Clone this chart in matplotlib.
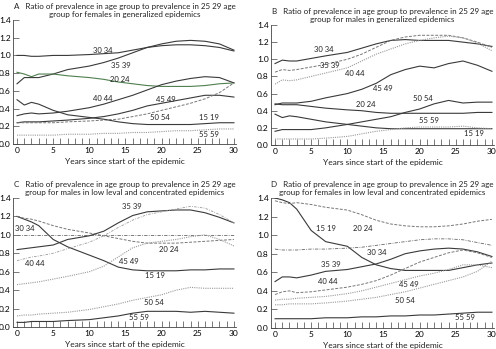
import matplotlib
matplotlib.use("Agg")
import matplotlib.pyplot as plt
from matplotlib.ticker import MultipleLocator

plt.rcParams['font.family'] = ['Lato', 'DejaVu Sans']

# sample years
years = [0, 1, 2, 3, 5, 7, 10, 12, 14, 16, 18, 20, 22, 24, 26, 28, 30]

# A - females, generalized epidemics
a_30_34 = [1.00, 1.00, 0.99, 0.99, 1.00, 1.00, 1.01, 1.02, 1.03, 1.06, 1.09, 1.11, 1.12, 1.12, 1.11, 1.09, 1.05]
a_35_39 = [0.68, 0.75, 0.75, 0.75, 0.79, 0.84, 0.88, 0.92, 0.97, 1.03, 1.09, 1.13, 1.16, 1.17, 1.16, 1.13, 1.06]
a_20_24 = [0.81, 0.79, 0.76, 0.79, 0.79, 0.77, 0.75, 0.73, 0.70, 0.68, 0.66, 0.65, 0.65, 0.65, 0.66, 0.68, 0.69]
a_40_44 = [0.32, 0.34, 0.35, 0.34, 0.35, 0.37, 0.41, 0.45, 0.50, 0.55, 0.61, 0.67, 0.71, 0.74, 0.76, 0.75, 0.69]
a_45_49 = [0.24, 0.25, 0.25, 0.25, 0.26, 0.27, 0.29, 0.31, 0.34, 0.38, 0.43, 0.46, 0.49, 0.52, 0.55, 0.55, 0.53]
a_50_54 = [0.24, 0.24, 0.24, 0.24, 0.24, 0.25, 0.26, 0.27, 0.28, 0.31, 0.34, 0.38, 0.42, 0.46, 0.51, 0.58, 0.69]
a_15_19 = [0.50, 0.44, 0.47, 0.45, 0.38, 0.33, 0.30, 0.28, 0.25, 0.23, 0.22, 0.22, 0.22, 0.22, 0.23, 0.24, 0.24]
a_55_59 = [0.10, 0.10, 0.10, 0.10, 0.10, 0.11, 0.11, 0.12, 0.12, 0.13, 0.13, 0.14, 0.15, 0.15, 0.16, 0.17, 0.17]

# B - males, generalized epidemics
b_30_34 = [0.95, 0.99, 0.98, 0.98, 1.01, 1.04, 1.08, 1.13, 1.18, 1.22, 1.23, 1.22, 1.22, 1.22, 1.20, 1.18, 1.15]
b_35_39 = [0.85, 0.88, 0.87, 0.88, 0.91, 0.94, 1.00, 1.06, 1.14, 1.22, 1.26, 1.28, 1.28, 1.28, 1.25, 1.20, 1.14]
b_40_44 = [0.71, 0.76, 0.75, 0.76, 0.80, 0.84, 0.90, 0.98, 1.06, 1.12, 1.18, 1.22, 1.25, 1.27, 1.25, 1.19, 1.10]
b_45_49 = [0.47, 0.49, 0.49, 0.49, 0.51, 0.55, 0.60, 0.65, 0.72, 0.82, 0.88, 0.92, 0.90, 0.95, 0.98, 0.93, 0.86]
b_20_24 = [0.48, 0.47, 0.47, 0.47, 0.45, 0.43, 0.41, 0.40, 0.38, 0.37, 0.37, 0.37, 0.37, 0.37, 0.37, 0.38, 0.38]
b_50_54 = [0.16, 0.18, 0.18, 0.18, 0.18, 0.20, 0.24, 0.27, 0.30, 0.33, 0.38, 0.42, 0.48, 0.52, 0.49, 0.50, 0.50]
b_15_19 = [0.36, 0.32, 0.34, 0.33, 0.30, 0.27, 0.24, 0.22, 0.20, 0.19, 0.19, 0.19, 0.19, 0.19, 0.19, 0.19, 0.19]
b_55_59 = [0.07, 0.07, 0.07, 0.07, 0.07, 0.08, 0.10, 0.13, 0.16, 0.18, 0.20, 0.21, 0.21, 0.21, 0.22, 0.20, 0.19]

# C - males, low level and concentrated epidemics
c_15_19 = [1.20, 1.17, 1.14, 1.10, 0.95, 0.87, 0.78, 0.72, 0.65, 0.62, 0.61, 0.61, 0.61, 0.62, 0.62, 0.63, 0.63]
c_20_24 = [1.20, 1.18, 1.17, 1.15, 1.10, 1.06, 1.02, 0.99, 0.96, 0.93, 0.91, 0.91, 0.91, 0.92, 0.93, 0.94, 0.95]
c_30_34 = [1.00, 1.00, 1.00, 1.00, 1.00, 1.00, 1.00, 1.00, 1.00, 1.00, 1.00, 1.00, 1.00, 1.00, 1.00, 1.00, 1.00]
c_35_39 = [0.84, 0.85, 0.86, 0.87, 0.89, 0.95, 0.99, 1.04, 1.13, 1.21, 1.25, 1.26, 1.27, 1.27, 1.24, 1.19, 1.13]
c_40_44 = [0.72, 0.74, 0.76, 0.77, 0.80, 0.85, 0.92, 0.99, 1.08, 1.16, 1.22, 1.25, 1.28, 1.31, 1.29, 1.22, 1.13]
c_45_49 = [0.46, 0.47, 0.48, 0.49, 0.52, 0.55, 0.60, 0.66, 0.76, 0.86, 0.91, 0.93, 0.95, 0.98, 1.00, 0.95, 0.88]
c_50_54 = [0.12, 0.13, 0.13, 0.14, 0.15, 0.16, 0.19, 0.22, 0.25, 0.29, 0.32, 0.35, 0.40, 0.43, 0.42, 0.42, 0.42]
c_55_59 = [0.05, 0.05, 0.06, 0.06, 0.06, 0.07, 0.08, 0.10, 0.12, 0.15, 0.17, 0.17, 0.17, 0.16, 0.17, 0.16, 0.15]

# D - females, low level and concentrated epidemics
d_15_19 = [1.40, 1.38, 1.35, 1.28, 1.05, 0.93, 0.88, 0.76, 0.68, 0.64, 0.62, 0.62, 0.62, 0.62, 0.65, 0.68, 0.70]
d_20_24 = [1.37, 1.35, 1.34, 1.35, 1.33, 1.30, 1.27, 1.22, 1.16, 1.12, 1.10, 1.09, 1.09, 1.10, 1.12, 1.15, 1.17]
d_30_34 = [0.85, 0.84, 0.84, 0.84, 0.85, 0.85, 0.86, 0.87, 0.89, 0.91, 0.93, 0.95, 0.96, 0.96, 0.95, 0.92, 0.89]
d_35_39 = [0.50, 0.55, 0.55, 0.54, 0.57, 0.61, 0.63, 0.66, 0.69, 0.74, 0.80, 0.83, 0.85, 0.86, 0.85, 0.82, 0.77]
d_40_44 = [0.36, 0.39, 0.40, 0.38, 0.39, 0.41, 0.44, 0.47, 0.51, 0.57, 0.64, 0.71, 0.76, 0.81, 0.84, 0.81, 0.76]
d_45_49 = [0.30, 0.31, 0.31, 0.32, 0.33, 0.34, 0.37, 0.40, 0.44, 0.48, 0.52, 0.56, 0.59, 0.63, 0.68, 0.68, 0.65]
d_50_54 = [0.25, 0.25, 0.26, 0.26, 0.26, 0.27, 0.29, 0.31, 0.33, 0.36, 0.39, 0.43, 0.47, 0.51, 0.55, 0.61, 0.72]
d_55_59 = [0.10, 0.10, 0.10, 0.10, 0.10, 0.11, 0.11, 0.12, 0.12, 0.13, 0.13, 0.14, 0.14, 0.15, 0.16, 0.17, 0.17]

# line looks
SOLID = dict(color='#3a3a3a', lw=0.8, ls='-')
GREEN = dict(color='#4f7f4f', lw=0.8, ls='-')
DASH = dict(color='#777777', lw=0.7, ls=(0, (3, 1.5)))
DOT = dict(color='#9a9a9a', lw=0.8, ls=(0, (1, 1)))
DASHDOT = dict(color='#666666', lw=0.6, ls=(0, (4, 1.5, 1, 1.5)))
DASHDOT2 = dict(color='#9a9a9a', lw=0.6, ls=(0, (3, 1.5, 1, 1.5)))

# (values, style, label, label x, label y)
panels = [
    ("A   Ratio of prevalence in age group to prevalence in 25 29 age\ngroup for females in generalized epidemics",
     [12.7 / 496, 205 / 349, 223.4 / 496, 124 / 349],
     [(a_30_34, SOLID, "30 34", 11.9, 1.06),
      (a_35_39, SOLID, "35 39", 14.4, 0.89),
      (a_20_24, GREEN, "20 24", 14.2, 0.73),
      (a_40_44, SOLID, "40 44", 11.9, 0.51),
      (a_45_49, SOLID, "45 49", 20.6, 0.50),
      (a_50_54, DASH, "50 54", 19.7, 0.30),
      (a_15_19, SOLID, "15 19", 26.6, 0.30),
      (a_55_59, DOT, "55 59", 26.6, 0.105)]),
    ("B   Ratio of prevalence in age group to prevalence in 25 29 age\ngroup for males in generalized epidemics",
     [270.7 / 496, 204 / 349, 223.4 / 496, 120 / 349],
     [(b_30_34, SOLID, "30 34", 6.7, 1.12),
      (b_35_39, DASH, "35 39", 7.6, 0.93),
      (b_40_44, DOT, "40 44", 11.0, 0.84),
      (b_45_49, SOLID, "45 49", 14.9, 0.66),
      (b_20_24, SOLID, "20 24", 12.6, 0.47),
      (b_50_54, SOLID, "50 54", 20.4, 0.54),
      (b_15_19, SOLID, "15 19", 27.5, 0.13),
      (b_55_59, DOT, "55 59", 21.3, 0.29)]),
    ("C   Ratio of prevalence in age group to prevalence in 25 29 age\ngroup for males in low leval and concentrated epidemics",
     [12.7 / 496, 22 / 349, 223.4 / 496, 129 / 349],
     [(c_15_19, SOLID, "15 19", 19.1, 0.56),
      (c_20_24, DASH, "20 24", 21.0, 0.84),
      (c_30_34, DASHDOT, "30 34", 1.1, 1.07),
      (c_35_39, SOLID, "35 39", 15.9, 1.31),
      (c_40_44, DASHDOT2, "40 44", 2.5, 0.69),
      (c_45_49, DOT, "45 49", 15.4, 0.71),
      (c_50_54, DOT, "50 54", 18.9, 0.27),
      (c_55_59, SOLID, "55 59", 16.8, 0.10)]),
    ("D   Ratio of prevalence in age group to prevalence in 25 29 age\ngroup for females in low leval and concentrated epidemics",
     [270.7 / 496, 21 / 349, 223.4 / 496, 130 / 349],
     [(d_15_19, SOLID, "15 19", 7.0, 1.07),
      (d_20_24, DASH, "20 24", 12.2, 1.07),
      (d_30_34, DASHDOT, "30 34", 14.0, 0.81),
      (d_35_39, SOLID, "35 39", 7.7, 0.68),
      (d_40_44, DASH, "40 44", 7.3, 0.50),
      (d_45_49, DOT, "45 49", 18.5, 0.47),
      (d_50_54, DOT, "50 54", 17.9, 0.30),
      (d_55_59, SOLID, "55 59", 26.3, 0.11)]),
]

fig = plt.figure(figsize=(4.96, 3.49), dpi=100)

for title, rect, series in panels:
    ax = fig.add_axes(rect)
    for vals, style, lab, lx, ly in series:
        ax.plot(years, vals, **style)
        ax.text(lx, ly, lab, fontsize=5.5, ha='center', va='center', color='#222222')

    ax.set_xlim(-0.6, 30.3)
    ax.set_ylim(0, 1.4)
    ax.xaxis.set_major_locator(MultipleLocator(5))
    ax.xaxis.set_minor_locator(MultipleLocator(1))
    ax.yaxis.set_major_locator(MultipleLocator(0.2))
    ax.yaxis.set_major_formatter(plt.FormatStrFormatter('%.1f'))
    ax.tick_params(axis='x', which='both', direction='in', length=4, width=0.5,
                   labelsize=6, pad=2, color='#444444')
    ax.tick_params(axis='y', direction='in', length=4, width=0.5,
                   labelsize=6, pad=1.5, color='#444444')
    for side in ('top', 'right'):
        ax.spines[side].set_visible(False)
    for side in ('left', 'bottom'):
        ax.spines[side].set_linewidth(0.6)
        ax.spines[side].set_color('#444444')

    ax.set_title(title, fontsize=5.8, pad=2, linespacing=1.15, color='#222222')
    ax.set_xlabel("Years since start of the epidemic", fontsize=6, labelpad=3, color='#222222')

plt.savefig("out.png", dpi=100)
